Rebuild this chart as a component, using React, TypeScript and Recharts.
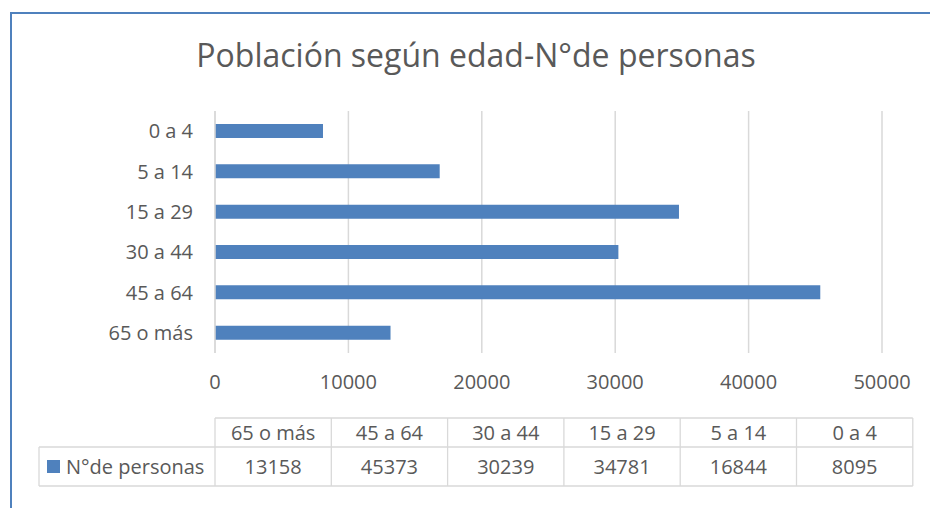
import React from 'react';
import { BarChart, Bar, XAxis, YAxis, CartesianGrid, Customized } from 'recharts';

// Datos (orden de la tabla de Excel)
const categorias = ['65 o más', '45 a 64', '30 a 44', '15 a 29', '5 a 14', '0 a 4'];
const personas = [13158, 45373, 30239, 34781, 16844, 8095];
const ticksX = [0, 10000, 20000, 30000, 40000, 50000];
const nombreSerie = 'N°de personas';

const data = categorias.map((c, i) => ({ name: c, personas: personas[i] }));

const FONT = '"Open Sans", sans-serif';
const TEXT = '#595959';
const GRID = '#D9D9D9';
const AZUL = '#4F81BD';

// tabla de datos bajo el gráfico
const TablaDatos = () => {
    const x0 = 215;
    const colW = 116.3;
    const yTop = 418;
    const yMid = 447;
    const yBot = 486;
    const xLeft = 39;
    const xRight = x0 + colW * categorias.length;
    return (
        <g fontFamily={FONT} fontSize={20} fill={TEXT}>
            <line x1={x0} y1={yTop} x2={xRight} y2={yTop} stroke={GRID} strokeWidth={1.3} />
            <line x1={xLeft} y1={yMid} x2={xRight} y2={yMid} stroke={GRID} strokeWidth={1.3} />
            <line x1={xLeft} y1={yBot} x2={xRight} y2={yBot} stroke={GRID} strokeWidth={1.3} />
            <line x1={xLeft} y1={yMid} x2={xLeft} y2={yBot} stroke={GRID} strokeWidth={1.3} />
            {categorias.map((c, i) => (
                <line key={'v' + i} x1={x0 + colW * i} y1={yTop} x2={x0 + colW * i} y2={yBot} stroke={GRID} strokeWidth={1.3} />
            ))}
            <line x1={xRight} y1={yTop} x2={xRight} y2={yBot} stroke={GRID} strokeWidth={1.3} />
            {categorias.map((c, i) => (
                <text key={'h' + i} x={x0 + colW * (i + 0.5)} y={yTop + 22} textAnchor="middle">{c}</text>
            ))}
            {personas.map((v, i) => (
                <text key={'d' + i} x={x0 + colW * (i + 0.5)} y={yMid + 27} textAnchor="middle">{v}</text>
            ))}
            <rect x={47} y={460} width={13} height={13} fill={AZUL} />
            <text x={66} y={yMid + 27}>{nombreSerie}</text>
        </g>
    );
};

const App: React.FC = () => {
    return (
        <div style={{ position: 'absolute', left: 0, top: 0, width: 930, height: 508, background: '#fff', overflow: 'hidden' }}>
            <div style={{ position: 'absolute', left: 10, top: 12, width: 930, height: 508, borderTop: `2px solid ${AZUL}`, borderLeft: `2px solid ${AZUL}` }} />
            <div style={{ position: 'absolute', left: 0, top: 33, width: 952, textAlign: 'center', fontFamily: FONT, fontSize: 32, color: TEXT }}>
                Población según edad-N°de personas
            </div>
            <div style={{ position: 'absolute', left: 0, top: 0 }}>
                <BarChart
                    width={930}
                    height={508}
                    data={data}
                    layout="vertical"
                    margin={{ top: 111, right: 48, left: 115, bottom: 125 }}
                >
                    <CartesianGrid horizontal={false} stroke={GRID} strokeWidth={1.5} />
                    <XAxis
                        type="number"
                        domain={[0, 50000]}
                        ticks={ticksX}
                        axisLine={false}
                        tickLine={false}
                        tickSize={0}
                        tickMargin={22}
                        height={30}
                        tick={{ fill: TEXT, fontSize: 20, fontFamily: FONT }}
                    />
                    <YAxis
                        type="category"
                        dataKey="name"
                        reversed
                        width={100}
                        axisLine={{ stroke: GRID, strokeWidth: 1.5 }}
                        tickLine={false}
                        tickSize={0}
                        tickMargin={22}
                        tick={{ fill: TEXT, fontSize: 20, fontFamily: FONT }}
                    />
                    <Bar dataKey="personas" fill={AZUL} barSize={14} isAnimationActive={false} />
                    <Customized component={TablaDatos} />
                </BarChart>
            </div>
        </div>
    );
};

export default App;
